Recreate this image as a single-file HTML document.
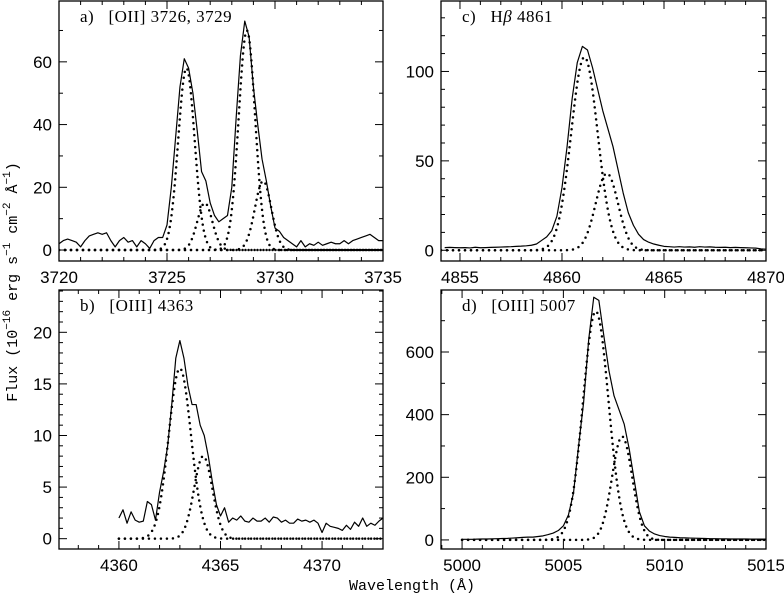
<!DOCTYPE html>
<html><head><meta charset="utf-8"><style>
html,body{margin:0;padding:0;background:#fff;}
svg text{font-family:"Liberation Sans",sans-serif;fill:#000;}
.ann{font-family:"Liberation Serif",serif;font-size:17px;letter-spacing:0.5px;}
.ttl{font-family:"Liberation Mono",monospace;font-size:15px;}
</style></head><body>
<svg id="chart" width="784" height="598" viewBox="0 0 784 598" xmlns="http://www.w3.org/2000/svg">
<text class="ttl" transform="translate(17,282) rotate(-90)" text-anchor="middle">Flux (10<tspan dy="-7" font-size="11">−16</tspan><tspan dy="7"> erg s</tspan><tspan dy="-7" font-size="11">−1</tspan><tspan dy="7"> cm</tspan><tspan dy="-7" font-size="11">−2</tspan><tspan dy="7"> Å</tspan><tspan dy="-7" font-size="11">−1</tspan><tspan dy="7">)</tspan></text>
<text class="ttl" x="412" y="590" text-anchor="middle">Wavelength (Å)</text>
</svg>
<script>
// Panel a: [OII]
const aObsStart = 3720.0, aObsStep = 0.2;
const aObs = [2,3,3.5,3,2.5,1,3,4.5,5,5.5,5,5.5,3,1,3,4,2.5,3,1,3,2,0.5,3,4,4,8,20,36,52,61,58,50,38,25,22,15,11,9,10,11,20,42,62,73,68,52,40,29,22,14,7,6,4,3,2,1,3,1,2,1.5,2.5,1.5,2,2.5,2,2,3,2,3,3.5,4,4.5,5,4,3,3];
const aCenters = [3725.9, 3726.75, 3728.7, 3729.45];
const aAmps = [58, 15, 70, 22];
const aSigmas = [0.38, 0.35, 0.38, 0.38];
// Panel b: [OIII] 4363
const bObsStart = 4360.0, bObsStep = 0.2;
const bObs = [2,2.8,1.5,2.6,1.8,1.6,1.7,3.6,3.3,1.8,4.5,6.5,9,13,17.5,19.2,17.5,14.8,13,13,11,10,8,5.5,3.3,2.2,3,1.6,2,1.8,2.2,1.7,1.6,2,1.7,1.7,2,1.6,2.1,2,1.6,1.8,1.5,1.5,1.9,1.7,1.8,1.6,1.8,1.5,0.6,1.5,1.2,1.1,1,0.8,1.3,0.9,1.6,1.2,2,1.2,1.5,1.3,1.7,2];
const bCenters = [4363.0, 4364.15];
const bAmps = [16.5, 8];
const bSigmas = [0.55, 0.45];
// Panel c: Hbeta
const cObsStart = 4854.25, cObsStep = 0.25;
const cObs = [1.5,1.6,1.5,1.4,1.5,1.3,1.7,1.4,1.5,1.6,1.7,1.8,1.9,2.0,2.2,2.3,2.5,2.8,3.5,5.5,7.5,11,19,35,58,85,105,114,112,102,90,78,68,58,45,32,21,14,9,6,4.5,3.5,2.8,2.2,2,1.8,2,1.8,1.9,1.7,2,1.8,1.9,1.7,1.6,1.7,1.5,1.6,1.5,1.4,1.3,1.2,0.8,0.6];
const cCenters = [4861.1, 4862.2];
const cAmps = [108, 43];
const cSigmas = [0.65, 0.55];
// Panel d: [OIII] 5007
const dObsStart = 5000.0, dObsStep = 0.25;
const dObs = [2,2,2,2.5,3,3,3.5,4,4.5,5,6,7,8,9,9,11,13,17,22,30,45,80,150,300,440,640,775,765,650,540,460,415,370,290,190,90,45,28,19,14,11,9,8,7,6.5,6,5.5,5,4.5,4,4,3.5,3.5,3,3,3,3,2.5,2.5,2.5,2.5];
const dCenters = [5006.6, 5007.9];
const dAmps = [730, 330];
const dSigmas = [0.63, 0.5];

const NS = "http://www.w3.org/2000/svg";
const svg = document.getElementById('chart');
function mk(tag, attrs, parent){const e=document.createElementNS(NS,tag);for(const k in attrs)e.setAttribute(k,attrs[k]);(parent||svg).appendChild(e);return e;}

function panel(p){
  const g = mk('g',{});
  
  
  const sx = v => p.L + (v - p.x0)/(p.x1 - p.x0)*(p.R - p.L);
  const sy = v => p.B - (v - p.y0)/(p.y1 - p.y0)*(p.B - p.T);
  const clipId = 'clip'+p.id;
  const cp = mk('clipPath',{id:clipId},g);
  mk('rect',{x:p.L,y:p.T,width:p.R-p.L,height:p.B-p.T},cp);
  const dg = mk('g',{'clip-path':'url(#'+clipId+')'},g);
  const xs = [];
  for(let x=p.fitStart; x<=p.x1+1e-9; x+=0.02) xs.push(x);
  p.centers.forEach((c,i)=>{
    let d='';
    xs.forEach((x,j)=>{const y=p.amps[i]*Math.exp(-(x-c)*(x-c)/(2*p.sig[i]*p.sig[i]));d+=(j?'L':'M')+sx(x).toFixed(2)+','+sy(y).toFixed(2);});
    const path = mk('path',{d:d,fill:'none',stroke:'#000','stroke-width':2.5,'stroke-linecap':'round','stroke-dasharray':'0 6'},dg);
    
    
  });
  let d='';
  p.obs.forEach((v,i)=>{const x=p.obsStart+i*p.obsStep;d+=(i?'L':'M')+sx(x).toFixed(2)+','+sy(v).toFixed(2);});
  const sp = mk('path',{d:d,fill:'none',stroke:'#000','stroke-width':1.2,'stroke-linejoin':'round','clip-path':'url(#'+clipId+')'},g);
  
  
  mk('rect',{x:p.L,y:p.T,width:p.R-p.L,height:p.B-p.T,fill:'none',stroke:'#000','stroke-width':1.3},g);
  for(let v=Math.ceil(p.x0); v<=p.x1+1e-9; v+=p.xMinor){
    const X=sx(v); const major = Math.abs(v/p.xMajor - Math.round(v/p.xMajor))<1e-6; const len=major?8:4;
    mk('line',{x1:X,y1:p.B,x2:X,y2:p.B-len,stroke:'#000','stroke-width':1},g);
    mk('line',{x1:X,y1:p.T,x2:X,y2:p.T+len,stroke:'#000','stroke-width':1},g);
    if(major){const t=mk('text',{x:X,y:p.B+22,'text-anchor':'middle','font-size':17},g);t.textContent=String(Math.round(v));
      
      }
  }
  for(let v=Math.ceil(p.y0/p.yMinor)*p.yMinor; v<=p.y1+1e-9; v+=p.yMinor){
    const Y=sy(v); const major = Math.abs(v/p.yMajor - Math.round(v/p.yMajor))<1e-6; const len=major?8:4;
    mk('line',{x1:p.L,y1:Y,x2:p.L+len,y2:Y,stroke:'#000','stroke-width':1},g);
    mk('line',{x1:p.R,y1:Y,x2:p.R-len,y2:Y,stroke:'#000','stroke-width':1},g);
    if(major){const t=mk('text',{x:p.L-7,y:Y+6,'text-anchor':'end','font-size':17},g);t.textContent=String(Math.round(v));
      
      }
  }
  const an = mk('text',{x:p.L+21,y:p.T+21,'class':'ann'},g);
  an.innerHTML = p.label;
  
  
}

panel({id:'a',L:59,R:383,T:1,B:261,x0:3720,x1:3735,y0:-3.5,y1:79.4,xMinor:1,xMajor:5,yMinor:10,yMajor:20,
  obs:aObs,obsStart:aObsStart,obsStep:aObsStep,centers:aCenters,amps:aAmps,sig:aSigmas,fitStart:3720,
  label:'a)&#160;&#160;&#160;[OII] 3726, 3729'});
panel({id:'b',L:59,R:383,T:290,B:549,x0:4357.05,x1:4373,y0:-1.0,y1:24.1,xMinor:1,xMajor:5,yMinor:1,yMajor:5,
  obs:bObs,obsStart:bObsStart,obsStep:bObsStep,centers:bCenters,amps:bAmps,sig:bSigmas,fitStart:4360,
  label:'b)&#160;&#160;&#160;[OIII] 4363'});
panel({id:'c',L:441,R:766,T:1,B:261,x0:4854.07,x1:4870,y0:-6,y1:139.4,xMinor:1,xMajor:5,yMinor:10,yMajor:50,
  obs:cObs,obsStart:cObsStart,obsStep:cObsStep,centers:cCenters,amps:cAmps,sig:cSigmas,fitStart:4854.07,
  label:'c)&#160;&#160;&#160;H<tspan font-style="italic">β</tspan> 4861'});
panel({id:'d',L:441,R:766,T:290,B:549,x0:4998.96,x1:5015,y0:-29,y1:798,xMinor:1,xMajor:5,yMinor:100,yMajor:200,
  obs:dObs,obsStart:dObsStart,obsStep:dObsStep,centers:dCenters,amps:dAmps,sig:dSigmas,fitStart:5000,
  label:'d)&#160;&#160;&#160;[OIII] 5007'});
</script>
</body></html>
